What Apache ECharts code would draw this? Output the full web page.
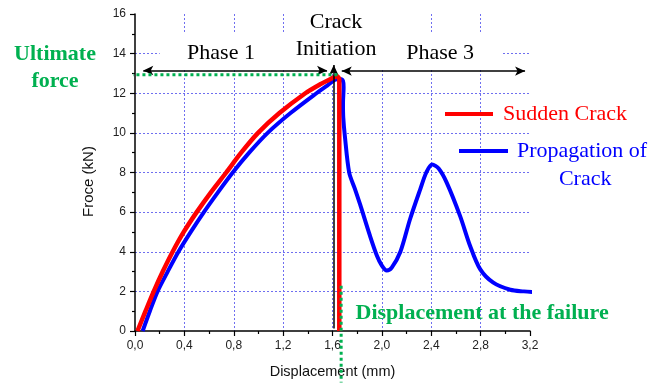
<!DOCTYPE html>
<html>
<head>
<meta charset="utf-8">
<script src="https://cdn.jsdelivr.net/npm/echarts@6/dist/echarts.min.js"></script>
<style>
  html, body { margin: 0; padding: 0; background: #fff; }
  #main { width: 654px; height: 384px; }
</style>
</head>
<body>
<div id="main"></div>
<script>
// tick labels (comma decimals as in the original)
const xTickLabels = ['0,0', '0,4', '0,8', '1,2', '1,6', '2,0', '2,4', '2,8', '3,2'];
const yTickLabels = ['0', '2', '4', '6', '8', '10', '12', '14', '16'];

// Sudden Crack (red)
const redX = [0.02, 0.085, 0.152, 0.225, 0.305, 0.395, 0.50, 0.615, 0.739, 0.86, 0.997, 1.17, 1.38, 1.50, 1.585, 1.635, 1.655, 1.655];
const redY = [0, 1, 2, 3, 4, 5, 6, 7, 8, 9, 10, 11, 12, 12.45, 12.72, 12.86, 12.7, 0];

// Propagation of Crack (blue)
const blueX = [0.062, 0.12, 0.183, 0.265, 0.352, 0.452, 0.558, 0.672, 0.792, 0.925, 1.075, 1.26, 1.47, 1.56, 1.62, 1.66, 1.685, 1.69, 1.685, 1.687, 1.70, 1.735, 1.78, 1.823, 1.904, 1.96, 2.0, 2.04, 2.08, 2.15, 2.228, 2.31, 2.36, 2.407, 2.46, 2.526, 2.634, 2.715, 2.796, 2.90, 3.04, 3.15, 3.27];
const blueY = [0, 1, 2, 3, 4, 5, 6, 7, 8, 9, 10, 11, 12, 12.4, 12.68, 12.72, 12.62, 12.3, 11.5, 10.8, 9.85, 8.0, 7.2, 6.4, 4.8, 3.8, 3.3, 3.05, 3.2, 4.0, 5.64, 7.14, 8.0, 8.4, 8.2, 7.48, 5.8, 4.29, 3.12, 2.45, 2.08, 2.0, 1.95];

// annotation lines, in data units (mm, kN)
const phase1Arrow = [[0.067, 13.15], [1.556, 13.15]];
const phase3Arrow = [[1.675, 13.12], [3.16, 13.12]];
const initArrow = [[1.61, 0.12], [1.61, 13.43]];
const ultimateLine = [[-0.28, 12.93], [1.66, 12.93]];
const failureLine = [[1.67, 2.28], [1.67, -2.6]];

const serif = 'Liberation Serif';
const sans = 'Liberation Sans';
const green = '#00b050';

const notes = [
  { text: 'Crack', at: [1.629, 15.6], color: '#000' },
  { text: 'Initiation', at: [1.629, 14.24], color: '#000' },
  { text: 'Phase 1', at: [0.697, 14.04], color: '#000' },
  { text: 'Phase 3', at: [2.472, 14.04], color: '#000' },
  { text: 'Ultimate', at: [-0.648, 13.99], color: green, bold: true },
  { text: 'force', at: [-0.648, 12.58], color: green, bold: true },
  { text: 'Displacement at the failure', at: [2.812, 0.9], color: green, bold: true },
  { text: 'Crack', at: [3.647, 7.65], color: '#0000ff' }
];
// white text boxes that hide the grid behind the labels
const masks = [
  { from: [0.2, 13.28], to: [2.974, 15.04] },
  { from: [1.256, 13.28], to: [2.026, 16.8] }
];

function pairs(xs, ys) {
  return xs.map(function (x, i) { return [x, ys[i]]; });
}

function arrowLine(pts, symbols) {
  return [
    { coord: pts[0], symbol: symbols[0] },
    { coord: pts[1], symbol: symbols[1] }
  ];
}

const gridLine = { show: true, lineStyle: { color: '#6f6ff0', type: [2, 2], width: 1 }, showMinLine: false, showMaxLine: false };

const option = {
  animation: false,
  backgroundColor: '#fff',
  grid: { left: 135, right: 124, top: 14, bottom: 52 },
  xAxis: {
    type: 'value', min: 0, max: 3.2, interval: 0.4,
    name: 'Displacement (mm)', nameLocation: 'middle', nameGap: 33,
    nameTextStyle: { fontFamily: sans, fontSize: 14.5, color: '#111' },
    axisLine: { lineStyle: { color: '#000', width: 1.5 } },
    axisTick: { inside: false, length: 5, lineStyle: { color: '#000', width: 1.2 } },
    minorTick: { show: true, splitNumber: 2, length: 3, lineStyle: { color: '#000', width: 1.2 } },
    axisLabel: {
      margin: 9, fontFamily: sans, fontSize: 12, color: '#222',
      formatter: function (v) { return xTickLabels[Math.round(v / 0.4)]; }
    },
    splitLine: gridLine
  },
  yAxis: {
    type: 'value', min: 0, max: 16, interval: 2,
    name: 'Froce (kN)', nameLocation: 'middle', nameGap: 39,
    nameTextStyle: { fontFamily: sans, fontSize: 15, color: '#111', padding: [0, 18, 0, 0] },
    axisLine: { show: true, lineStyle: { color: '#000', width: 1.5 } },
    axisTick: { show: true, inside: false, length: 5, lineStyle: { color: '#000', width: 1.2 } },
    minorTick: { show: true, splitNumber: 2, length: 3, lineStyle: { color: '#000', width: 1.2 } },
    axisLabel: {
      margin: 9, fontFamily: sans, fontSize: 12, color: '#222',
      formatter: function (v) { return yTickLabels[Math.round(v / 2)]; }
    },
    splitLine: gridLine
  },
  legend: [
    {
      data: ['Sudden Crack'], left: 445, top: 103, padding: 0,
      itemWidth: 48, itemHeight: 4, icon: 'rect',
      textStyle: { color: '#ff0000', fontFamily: serif, fontSize: 22, padding: [0, 0, 0, 5] }
    },
    {
      data: ['Propagation of Crack'], left: 459, top: 140, padding: 0,
      itemWidth: 49, itemHeight: 4, icon: 'rect',
      formatter: function () { return 'Propagation of'; },
      textStyle: { color: '#0000ff', fontFamily: serif, fontSize: 22, padding: [0, 0, 0, 4] }
    }
  ],
  series: [
    {
      name: 'Sudden Crack', type: 'line', data: pairs(redX, redY),
      color: '#ff0000', showSymbol: false, smooth: 0.3, z: 4,
      lineStyle: { color: '#ff0000', width: 4.5 }
    },
    {
      name: 'Propagation of Crack', type: 'line', data: pairs(blueX, blueY),
      color: '#0000ff', showSymbol: false, smooth: 0.3, clip: false, z: 3,
      lineStyle: { color: '#0000ff', width: 4 },
      markLine: {
        silent: true, animation: false, symbolSize: [7, 10],
        label: { show: false },
        lineStyle: { color: '#000', width: 1.5, type: 'solid' },
        emphasis: { disabled: true },
        data: [
          arrowLine(phase1Arrow, ['arrow', 'arrow']),
          arrowLine(phase3Arrow, ['arrow', 'arrow']),
          arrowLine(initArrow, ['none', 'arrow'])
        ]
      }
    },
    {
      name: 'ultimate', type: 'line', data: ultimateLine, clip: false, silent: true,
      showSymbol: false, z: 5,
      lineStyle: { color: green, width: 3, type: [3, 3] }
    },
    {
      name: 'failure', type: 'line', data: failureLine, clip: false, silent: true,
      showSymbol: false, z: 5,
      lineStyle: { color: green, width: 3, type: [3, 3] }
    }
  ]
};

const chart = echarts.init(document.getElementById('main'), null, { renderer: 'canvas' });
chart.setOption(option);

// place the text notes through the axes
const graphics = [];
masks.forEach(function (m) {
  const a = chart.convertToPixel({ gridIndex: 0 }, m.from);
  const b = chart.convertToPixel({ gridIndex: 0 }, m.to);
  graphics.push({
    type: 'rect', z: 1, silent: true,
    shape: { x: Math.min(a[0], b[0]), y: Math.min(a[1], b[1]), width: Math.abs(b[0] - a[0]), height: Math.abs(b[1] - a[1]) },
    style: { fill: '#fff' }
  });
});
notes.forEach(function (n) {
  const p = chart.convertToPixel({ gridIndex: 0 }, n.at);
  graphics.push({
    type: 'text', z: 6, silent: true, x: p[0], y: p[1],
    style: {
      text: n.text, fill: n.color, font: (n.bold ? 'bold ' : '') + '22px "' + serif + '"',
      textAlign: 'center', textVerticalAlign: 'middle'
    }
  });
});
chart.setOption({ graphic: graphics });

window.addEventListener('resize', function () { chart.resize(); });
</script>
</body>
</html>
